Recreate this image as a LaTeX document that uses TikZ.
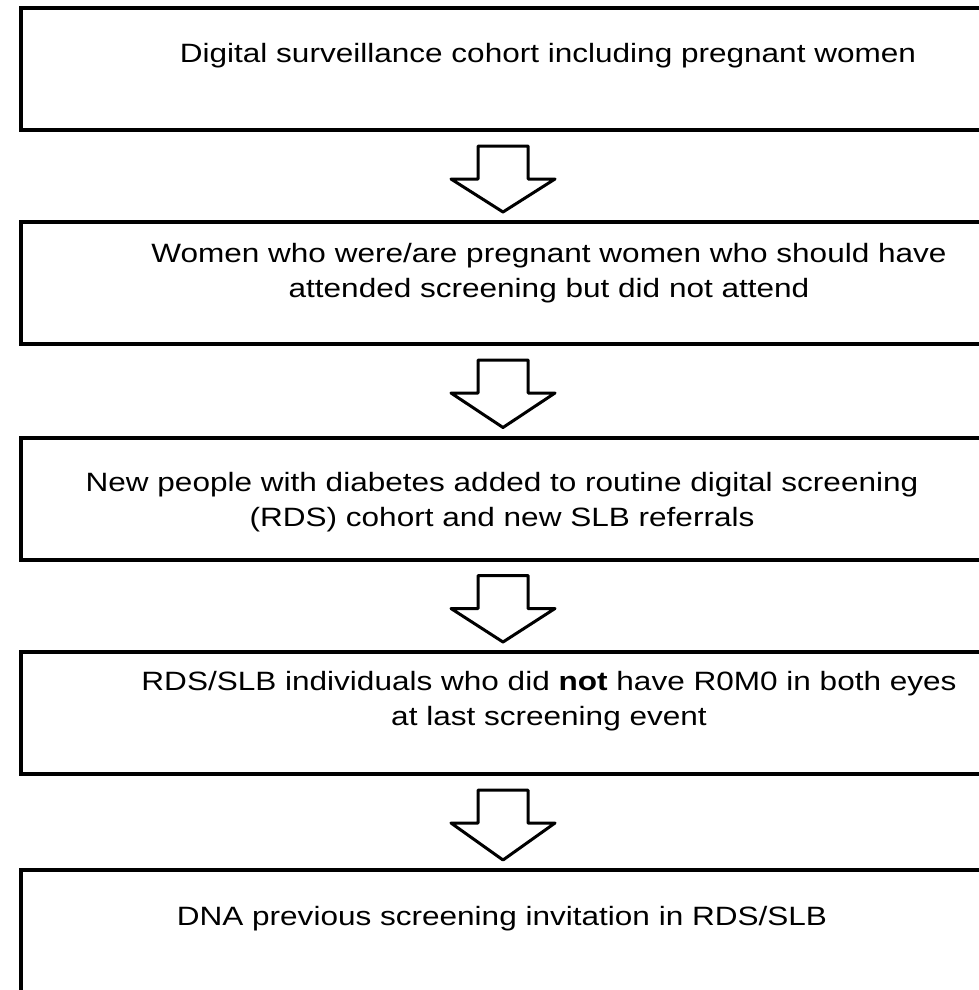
\documentclass[tikz,border=0pt]{standalone}
\usepackage{fontspec}
\setmainfont{Liberation Sans}[FakeStretch=1.19]
\usetikzlibrary{calc}
\begin{document}
\begin{tikzpicture}[x=1pt,y=-1pt,line join=round,font=\fontsize{26.5}{35}\selectfont,
	stage/.style={draw,line width=4pt,line join=miter,minimum width=965pt,minimum height=122pt,inner sep=0pt,outer sep=0pt},
	stagetext/.style={anchor=base,align=center,inner sep=0pt},
	hollow/.style={draw,line width=3pt,fill=white}]
	\clip (0,0) rectangle (979,990);
	\node[stage] (b1) at (503,69) {};
	\node[stage] (b2) at (503,283) {};
	\node[stage] (b3) at (503,498.5) {};
	\node[stage] (b4) at (503,713) {};
	\node[stage,minimum height=160pt] (b5) at (503,950) {};
	%texts (base = last line)
	\node[stagetext] (t1) at (548,63) {Digital surveillance cohort including pregnant women};
	\node[stagetext] (t2) at (549,297) {Women who were/are pregnant women who should have\\attended screening but did not attend};
	\node[stagetext] (t3) at (502,526) {New people with diabetes added to routine digital screening\\(RDS) cohort and new SLB referrals};
	\node[stagetext] (t4) at (549,725) {RDS/SLB individuals who did \textbf{not} have R0M0 in both eyes\\at last screening event};
	\node[stagetext] (t5) at (502,925) {DNA previous screening invitation in RDS/SLB};
	%block arrows
	\foreach \a/\b in {b1/b2,b2/b3,b3/b4,b4/b5}{
		\draw[hollow] ($(\a.south)+(-25,16)$)--++(50,0)--++(0,33)--++(27,0)--($(\b.north)+(0,-10)$)--($(\a.south)+(-52,49)$)--++(27,0)--cycle;}
\end{tikzpicture}
\end{document}
